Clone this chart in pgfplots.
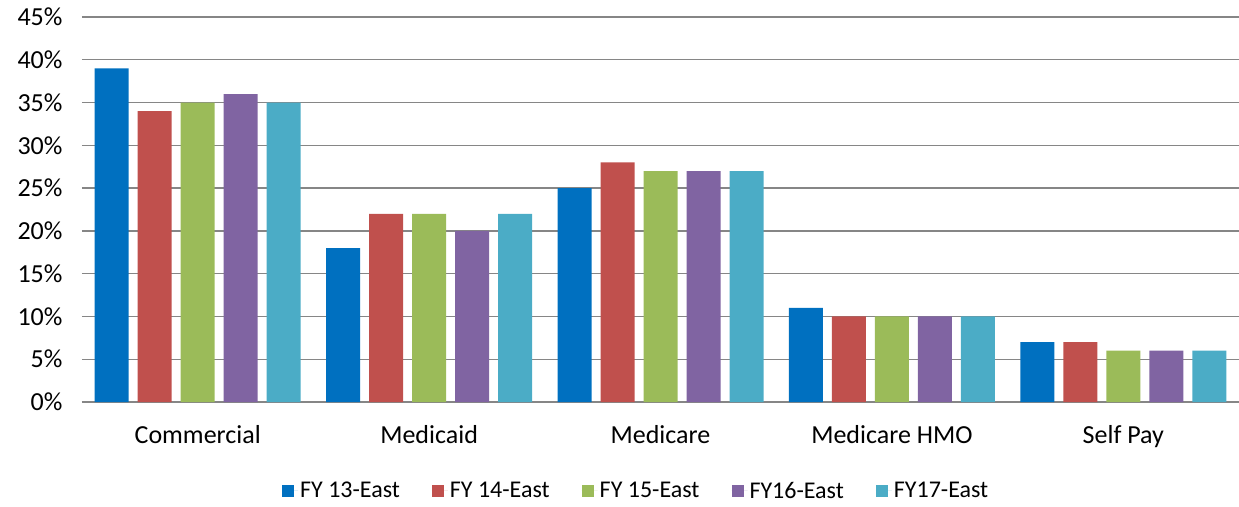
\documentclass[border=0pt]{standalone}
\usepackage{pgfplots}
\pgfplotsset{compat=1.18}
\usepackage{fontspec}
\setmainfont{Carlito}

\definecolor{cblue}{HTML}{0070C0}
\definecolor{cred}{HTML}{C0504D}
\definecolor{cgreen}{HTML}{9BBB59}
\definecolor{cpurple}{HTML}{8064A2}
\definecolor{caqua}{HTML}{4BACC6}
\definecolor{gridgray}{HTML}{868686}

\begin{document}
\begin{tikzpicture}
\useasboundingbox (-82pt,-104pt) rectangle (1157pt,402pt);
\begin{axis}[
    scale only axis,
    width=1157pt, height=385pt,
    ybar=9pt, bar width=34pt,
    xmin=-0.5, xmax=4.5,
    ymin=0, ymax=45,
    xtick={0,1,2,3,4},
    xticklabels={Commercial,Medicaid,Medicare,Medicare HMO,Self Pay},
    ytick={0,5,...,45},
    yticklabels={0\%,5\%,10\%,15\%,20\%,25\%,30\%,35\%,40\%,45\%},
    ymajorgrids=true,
    grid style={gridgray, line width=1.3pt},
    major tick length=0pt,
    axis x line*=bottom,
    axis y line*=left,
    y axis line style={draw=none},
    x axis line style={gridgray, line width=1.3pt, -},
    yticklabel style={font=\fontsize{26}{30}\selectfont, xshift=-16pt},
    xticklabel style={font=\fontsize{26}{30}\selectfont, yshift=-20pt},
    legend columns=5,
    legend style={draw=none, at={(0.479,-0.231)}, anchor=center,
        font=\fontsize{24}{28}\selectfont,
        /tikz/every even column/.append style={column sep=30pt}},
    legend image code/.code={\fill[#1] (0pt,-6pt) rectangle (12pt,6pt); \path (0pt,0pt) -- (16pt,0pt);},
    ]
\addplot[fill=cblue, draw=none] coordinates {(0,39) (1,18) (2,25) (3,11) (4,7)};
\addplot[fill=cred, draw=none] coordinates {(0,34) (1,22) (2,28) (3,10) (4,7)};
\addplot[fill=cgreen, draw=none] coordinates {(0,35) (1,22) (2,27) (3,10) (4,6)};
\addplot[fill=cpurple, draw=none] coordinates {(0,36) (1,20) (2,27) (3,10) (4,6)};
\addplot[fill=caqua, draw=none] coordinates {(0,35) (1,22) (2,27) (3,10) (4,6)};
\legend{FY 13-East,FY 14-East,FY 15-East,FY16-East,FY17-East}
\end{axis}
\end{tikzpicture}
\end{document}
